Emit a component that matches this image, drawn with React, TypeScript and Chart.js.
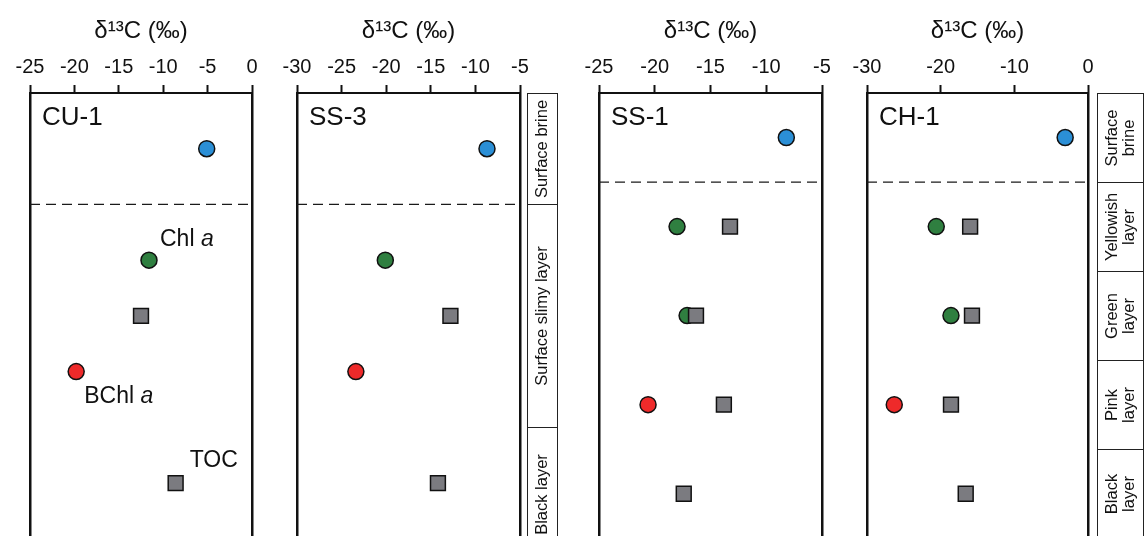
import React, { useEffect, useRef } from "react";
import { Chart, registerables } from "chart.js";

Chart.register(...registerables);

const FONT = "'Liberation Sans', Arial, Helvetica, sans-serif";

// ---------- axes ----------
const panelNames = ["CU-1", "SS-3", "SS-1", "CH-1"];
const axisMin = [-25, -30, -25, -30];
const axisMax = [0, -5, -5, 0];
const axisStep = [5, 5, 5, 10];
const depthMax = [7.95, 7.95, 9.95, 9.95];
const dividerDepth = [2, 2, 2, 2];
const axisTitle = "δ¹³C (‰)";

// ---------- CU-1 ----------
const cu1BrineX = [-5.1];
const cu1BrineY = [1];
const cu1ChlX = [-11.6];
const cu1ChlY = [3];
const cu1BchlX = [-19.8];
const cu1BchlY = [5];
const cu1TocX = [-12.5, -8.6];
const cu1TocY = [4, 7];

// ---------- SS-3 ----------
const ss3BrineX = [-8.7];
const ss3BrineY = [1];
const ss3ChlX = [-20.1];
const ss3ChlY = [3];
const ss3BchlX = [-23.4];
const ss3BchlY = [5];
const ss3TocX = [-12.8, -14.2];
const ss3TocY = [4, 7];

// ---------- SS-1 ----------
const ss1BrineX = [-8.2];
const ss1BrineY = [1];
const ss1ChlX = [-18.0, -17.1];
const ss1ChlY = [3, 5];
const ss1BchlX = [-20.6];
const ss1BchlY = [7];
const ss1TocX = [-13.25, -16.3, -13.8, -17.4];
const ss1TocY = [3, 5, 7, 9];

// ---------- CH-1 ----------
const ch1BrineX = [-3.1];
const ch1BrineY = [1];
const ch1ChlX = [-20.6, -18.6];
const ch1ChlY = [3, 5];
const ch1BchlX = [-26.3];
const ch1BchlY = [7];
const ch1TocX = [-16.0, -15.75, -18.6, -16.6];
const ch1TocY = [3, 5, 7, 9];

// ---------- layer columns ----------
const layersA = ["Surface brine", "Surface slimy layer", "Black layer"];
const layersABounds = [0, 2, 6, 8.4];
const layersB = ["Surface\nbrine", "Yellowish\nlayer", "Green\nlayer", "Pink\nlayer", "Black\nlayer"];
const layersBBounds = [0, 2, 4, 6, 8, 10];

// ---------- styling / layout ----------
const W = 1144;
const H = 536;
const areaLeft = [30, 297, 599, 867];
const areaRight = [252, 520, 822, 1088];
const BLUE = "#2b8fd6";
const GREEN = "#2f7f40";
const RED = "#ee2a2a";
const GRAY = "#7b7b80";
const EDGE = "#111111";
const INK = "#111111";

const panels = [
  { brine: [cu1BrineX, cu1BrineY], chl: [cu1ChlX, cu1ChlY], bchl: [cu1BchlX, cu1BchlY], toc: [cu1TocX, cu1TocY] },
  { brine: [ss3BrineX, ss3BrineY], chl: [ss3ChlX, ss3ChlY], bchl: [ss3BchlX, ss3BchlY], toc: [ss3TocX, ss3TocY] },
  { brine: [ss1BrineX, ss1BrineY], chl: [ss1ChlX, ss1ChlY], bchl: [ss1BchlX, ss1BchlY], toc: [ss1TocX, ss1TocY] },
  { brine: [ch1BrineX, ch1BrineY], chl: [ch1ChlX, ch1ChlY], bchl: [ch1BchlX, ch1BchlY], toc: [ch1TocX, ch1TocY] },
];

const layerColumns: any[] = [
  null,
  { names: layersA, bounds: layersABounds, offset: 7, width: 30 },
  null,
  { names: layersB, bounds: layersBBounds, offset: 9, width: 46 },
];

const annotations: any[] = [
  [
    { ds: 1, idx: 0, parts: [["Chl ", false], ["a", true]], dx: 11, dy: -21 },
    { ds: 2, idx: 0, parts: [["BChl ", false], ["a", true]], dx: 8, dy: 25 },
    { ds: 0, idx: 1, parts: [["TOC", false]], dx: 14, dy: -22 },
  ],
  [],
  [],
  [],
];

const toPts = (xs: number[], ys: number[]) => xs.map((x, k) => ({ x, y: ys[k] }));

const decorPlugin = {
  id: "panelDecor",
  afterDraw(chart: any, _args: any, opts: any) {
    const { ctx, chartArea } = chart;
    ctx.save();
    ctx.fillStyle = INK;
    ctx.textBaseline = "middle";
    ctx.textAlign = "left";
    ctx.font = `26px ${FONT}`;
    ctx.fillText(opts.name, chartArea.left + 12, chartArea.top + 25);

    // annotations
    (opts.annotations || []).forEach((a: any) => {
      const el = chart.getDatasetMeta(a.ds).data[a.idx];
      if (!el) return;
      let x = el.x + a.dx;
      const y = el.y + a.dy;
      a.parts.forEach(([txt, italic]: [string, boolean]) => {
        ctx.font = `${italic ? "italic " : ""}23px ${FONT}`;
        ctx.fillText(txt, x, y);
        x += ctx.measureText(txt).width;
      });
    });

    // layer column
    const col = opts.layers;
    if (col) {
      const yS = chart.scales.y;
      const x0 = Math.round(chartArea.right + col.offset) + 0.5;
      ctx.strokeStyle = "#222";
      ctx.lineWidth = 1;
      ctx.font = `16.5px ${FONT}`;
      ctx.textAlign = "center";
      for (let k = 0; k < col.names.length; k++) {
        const y0 = Math.round(yS.getPixelForValue(col.bounds[k])) + 0.5;
        const y1 = Math.round(yS.getPixelForValue(col.bounds[k + 1])) + 0.5;
        ctx.strokeRect(x0, y0, col.width, y1 - y0);
        ctx.save();
        ctx.translate(x0 + col.width / 2, (y0 + y1) / 2);
        ctx.rotate(-Math.PI / 2);
        const lines = col.names[k].split("\n");
        const lh = 17;
        lines.forEach((ln: string, j: number) => {
          ctx.fillText(ln, 0, (j - (lines.length - 1) / 2) * lh);
        });
        ctx.restore();
      }
    }
    ctx.restore();
  },
};

function makeConfig(i: number): any {
  const p = panels[i];
  const circle = (color: string) => ({
    pointStyle: "circle",
    pointRadius: 8,
    pointHoverRadius: 8,
    backgroundColor: color,
    borderColor: EDGE,
    borderWidth: 1.5,
  });
  const hiddenY = (pos: string, max: number) => ({
    type: "linear",
    position: pos,
    reverse: true,
    min: 0,
    max,
    ticks: { display: false },
    grid: { display: false, drawTicks: false },
    border: { display: true, color: INK, width: 2.5 },
    afterFit: (s: any) => {
      s.width = 0;
      s.paddingTop = 0;
      s.paddingBottom = 0;
      s.paddingLeft = 0;
      s.paddingRight = 0;
    },
  });
  return {
    type: "scatter",
    data: {
      datasets: [
        {
          label: "TOC",
          data: toPts(p.toc[0], p.toc[1]),
          pointStyle: "rect",
          pointRadius: 10.5,
          pointHoverRadius: 10.5,
          backgroundColor: GRAY,
          borderColor: EDGE,
          borderWidth: 1.5,
        },
        { label: "Chl a", data: toPts(p.chl[0], p.chl[1]), ...circle(GREEN) },
        { label: "BChl a", data: toPts(p.bchl[0], p.bchl[1]), ...circle(RED) },
        { label: "Surface brine", data: toPts(p.brine[0], p.brine[1]), ...circle(BLUE) },
        {
          label: "divider",
          data: [
            { x: axisMin[i], y: dividerDepth[i] },
            { x: axisMax[i], y: dividerDepth[i] },
          ],
          showLine: true,
          borderColor: "#1a1a1a",
          borderWidth: 1.3,
          borderDash: [10, 6],
          pointRadius: 0,
          pointHoverRadius: 0,
        },
      ],
    },
    options: {
      responsive: false,
      animation: false,
      events: [],
      layout: { autoPadding: false, padding: { left: areaLeft[i], right: W - areaRight[i], top: 0, bottom: 0 } },
      plugins: {
        legend: { display: false },
        tooltip: { enabled: false },
        panelDecor: { name: panelNames[i], annotations: annotations[i], layers: layerColumns[i] },
      },
      scales: {
        x: {
          type: "linear",
          position: "top",
          min: axisMin[i],
          max: axisMax[i],
          ticks: {
            stepSize: axisStep[i],
            color: INK,
            font: { size: 20, family: FONT },
            padding: 6,
            maxRotation: 0,
            autoSkip: false,
          },
          grid: { drawOnChartArea: false, drawTicks: true, tickLength: 8, tickWidth: 2, tickColor: INK },
          border: { display: true, color: INK, width: 2 },
          title: {
            display: true,
            text: axisTitle,
            color: INK,
            font: { size: 24, family: FONT },
            padding: { top: 17, bottom: 0 },
          },
          afterFit: (s: any) => {
            s.height = 93;
          },
        },
        y: hiddenY("left", depthMax[i]),
        y2: hiddenY("right", depthMax[i]),
      },
    },
    plugins: [decorPlugin],
  };
}

export default function App() {
  const refs = [useRef<HTMLCanvasElement>(null), useRef<HTMLCanvasElement>(null), useRef<HTMLCanvasElement>(null), useRef<HTMLCanvasElement>(null)];
  useEffect(() => {
    Chart.defaults.font.family = FONT;
    const charts = refs.map((r, i) => new Chart(r.current as HTMLCanvasElement, makeConfig(i)));
    return () => charts.forEach((c) => c.destroy());
  }, []);
  return (
    <div style={{ position: "fixed", left: 0, top: 0, width: W, height: H, background: "#fff", overflow: "hidden" }}>
      {refs.map((r, i) => (
        <canvas
          key={i}
          ref={r}
          width={W}
          height={H}
          style={{ position: "absolute", left: 0, top: 0, width: W, height: H }}
        />
      ))}
    </div>
  );
}
